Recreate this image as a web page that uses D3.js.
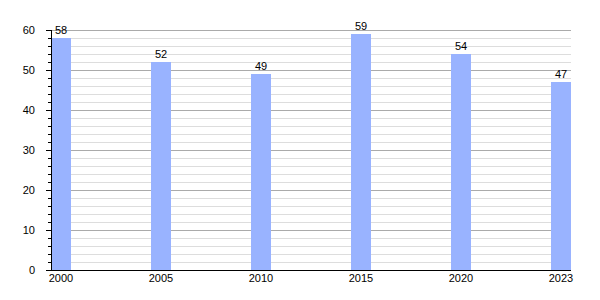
<!DOCTYPE html>
<html>
<head>
<meta charset="utf-8">
<script src="https://cdn.jsdelivr.net/npm/d3@7"></script>
<style>
body { margin: 0; background: #fff; }
text { font-family: "Liberation Sans", Arial, sans-serif; font-size: 11px; fill: #000; }
</style>
</head>
<body>
<script>
// values
var years = ["2000", "2005", "2010", "2015", "2020", "2023"];
var values = [58, 52, 49, 59, 54, 47];
var yTicks = [0, 10, 20, 30, 40, 50, 60];

var W = 600, H = 300;
var mLeft = 51, mRight = 571, mTop = 30, mBottom = 270;

var svg = d3.select("body").append("svg")
    .attr("width", W).attr("height", H);

var x = d3.scaleBand().domain(years).range([mLeft, mRight]).paddingInner(0.8).paddingOuter(0);
var y = d3.scaleLinear().domain([0, 60]).range([mBottom, mTop]);

//minor grid every 2
var minor = d3.range(2, 61, 2).filter(function(d) { return d % 10 != 0; });
svg.selectAll("line.minor").data(minor).enter().append("line")
    .attr("x1", mLeft).attr("x2", mRight)
    .attr("y1", function(d) { return y(d) + 0.5; })
    .attr("y2", function(d) { return y(d) + 0.5; })
    .attr("stroke", "#dddddd").attr("stroke-width", 1);

svg.selectAll("line.major").data(yTicks.slice(1)).enter().append("line")
    .attr("x1", mLeft).attr("x2", mRight)
    .attr("y1", function(d) { return y(d) + 0.5; })
    .attr("y2", function(d) { return y(d) + 0.5; })
    .attr("stroke", "#aaaaaa").attr("stroke-width", 1);

// bars
svg.selectAll("rect.bar").data(values).enter().append("rect")
    .attr("x", function(d, i) { return x(years[i]); })
    .attr("width", x.bandwidth())
    .attr("y", function(d) { return y(d); })
    .attr("height", function(d) { return mBottom - y(d); })
    .attr("fill", "#99b3ff");

svg.selectAll("text.val").data(values).enter().append("text")
    .attr("x", function(d, i) { return x(years[i]) + x.bandwidth() / 2; })
    .attr("y", function(d) { return y(d) - 4; })
    .attr("text-anchor", "middle")
    .text(function(d) { return d; });

// y axis
svg.append("line").attr("x1", mLeft + 0.5).attr("x2", mLeft + 0.5)
    .attr("y1", mTop).attr("y2", mBottom).attr("stroke", "#000");
svg.selectAll("line.ytick").data(d3.range(0, 61, 2)).enter().append("line")
    .attr("x1", function(d) { return d % 10 == 0 ? mLeft - 5 : mLeft - 3; })
    .attr("x2", mLeft)
    .attr("y1", function(d) { return y(d) + 0.5; })
    .attr("y2", function(d) { return y(d) + 0.5; })
    .attr("stroke", "#000");
svg.selectAll("text.ylab").data(yTicks).enter().append("text")
    .attr("x", mLeft - 16)
    .attr("y", function(d) { return y(d) + 4; })
    .attr("text-anchor", "end")
    .text(function(d) { return d; });

// x axis
svg.append("line").attr("x1", mLeft - 5).attr("x2", mRight)
    .attr("y1", mBottom + 0.5).attr("y2", mBottom + 0.5).attr("stroke", "#000");
svg.selectAll("text.xlab").data(years).enter().append("text")
    .attr("x", function(d) { return x(d) + x.bandwidth() / 2; })
    .attr("y", mBottom + 12)
    .attr("text-anchor", "middle")
    .text(function(d) { return d; });
</script>
</body>
</html>
